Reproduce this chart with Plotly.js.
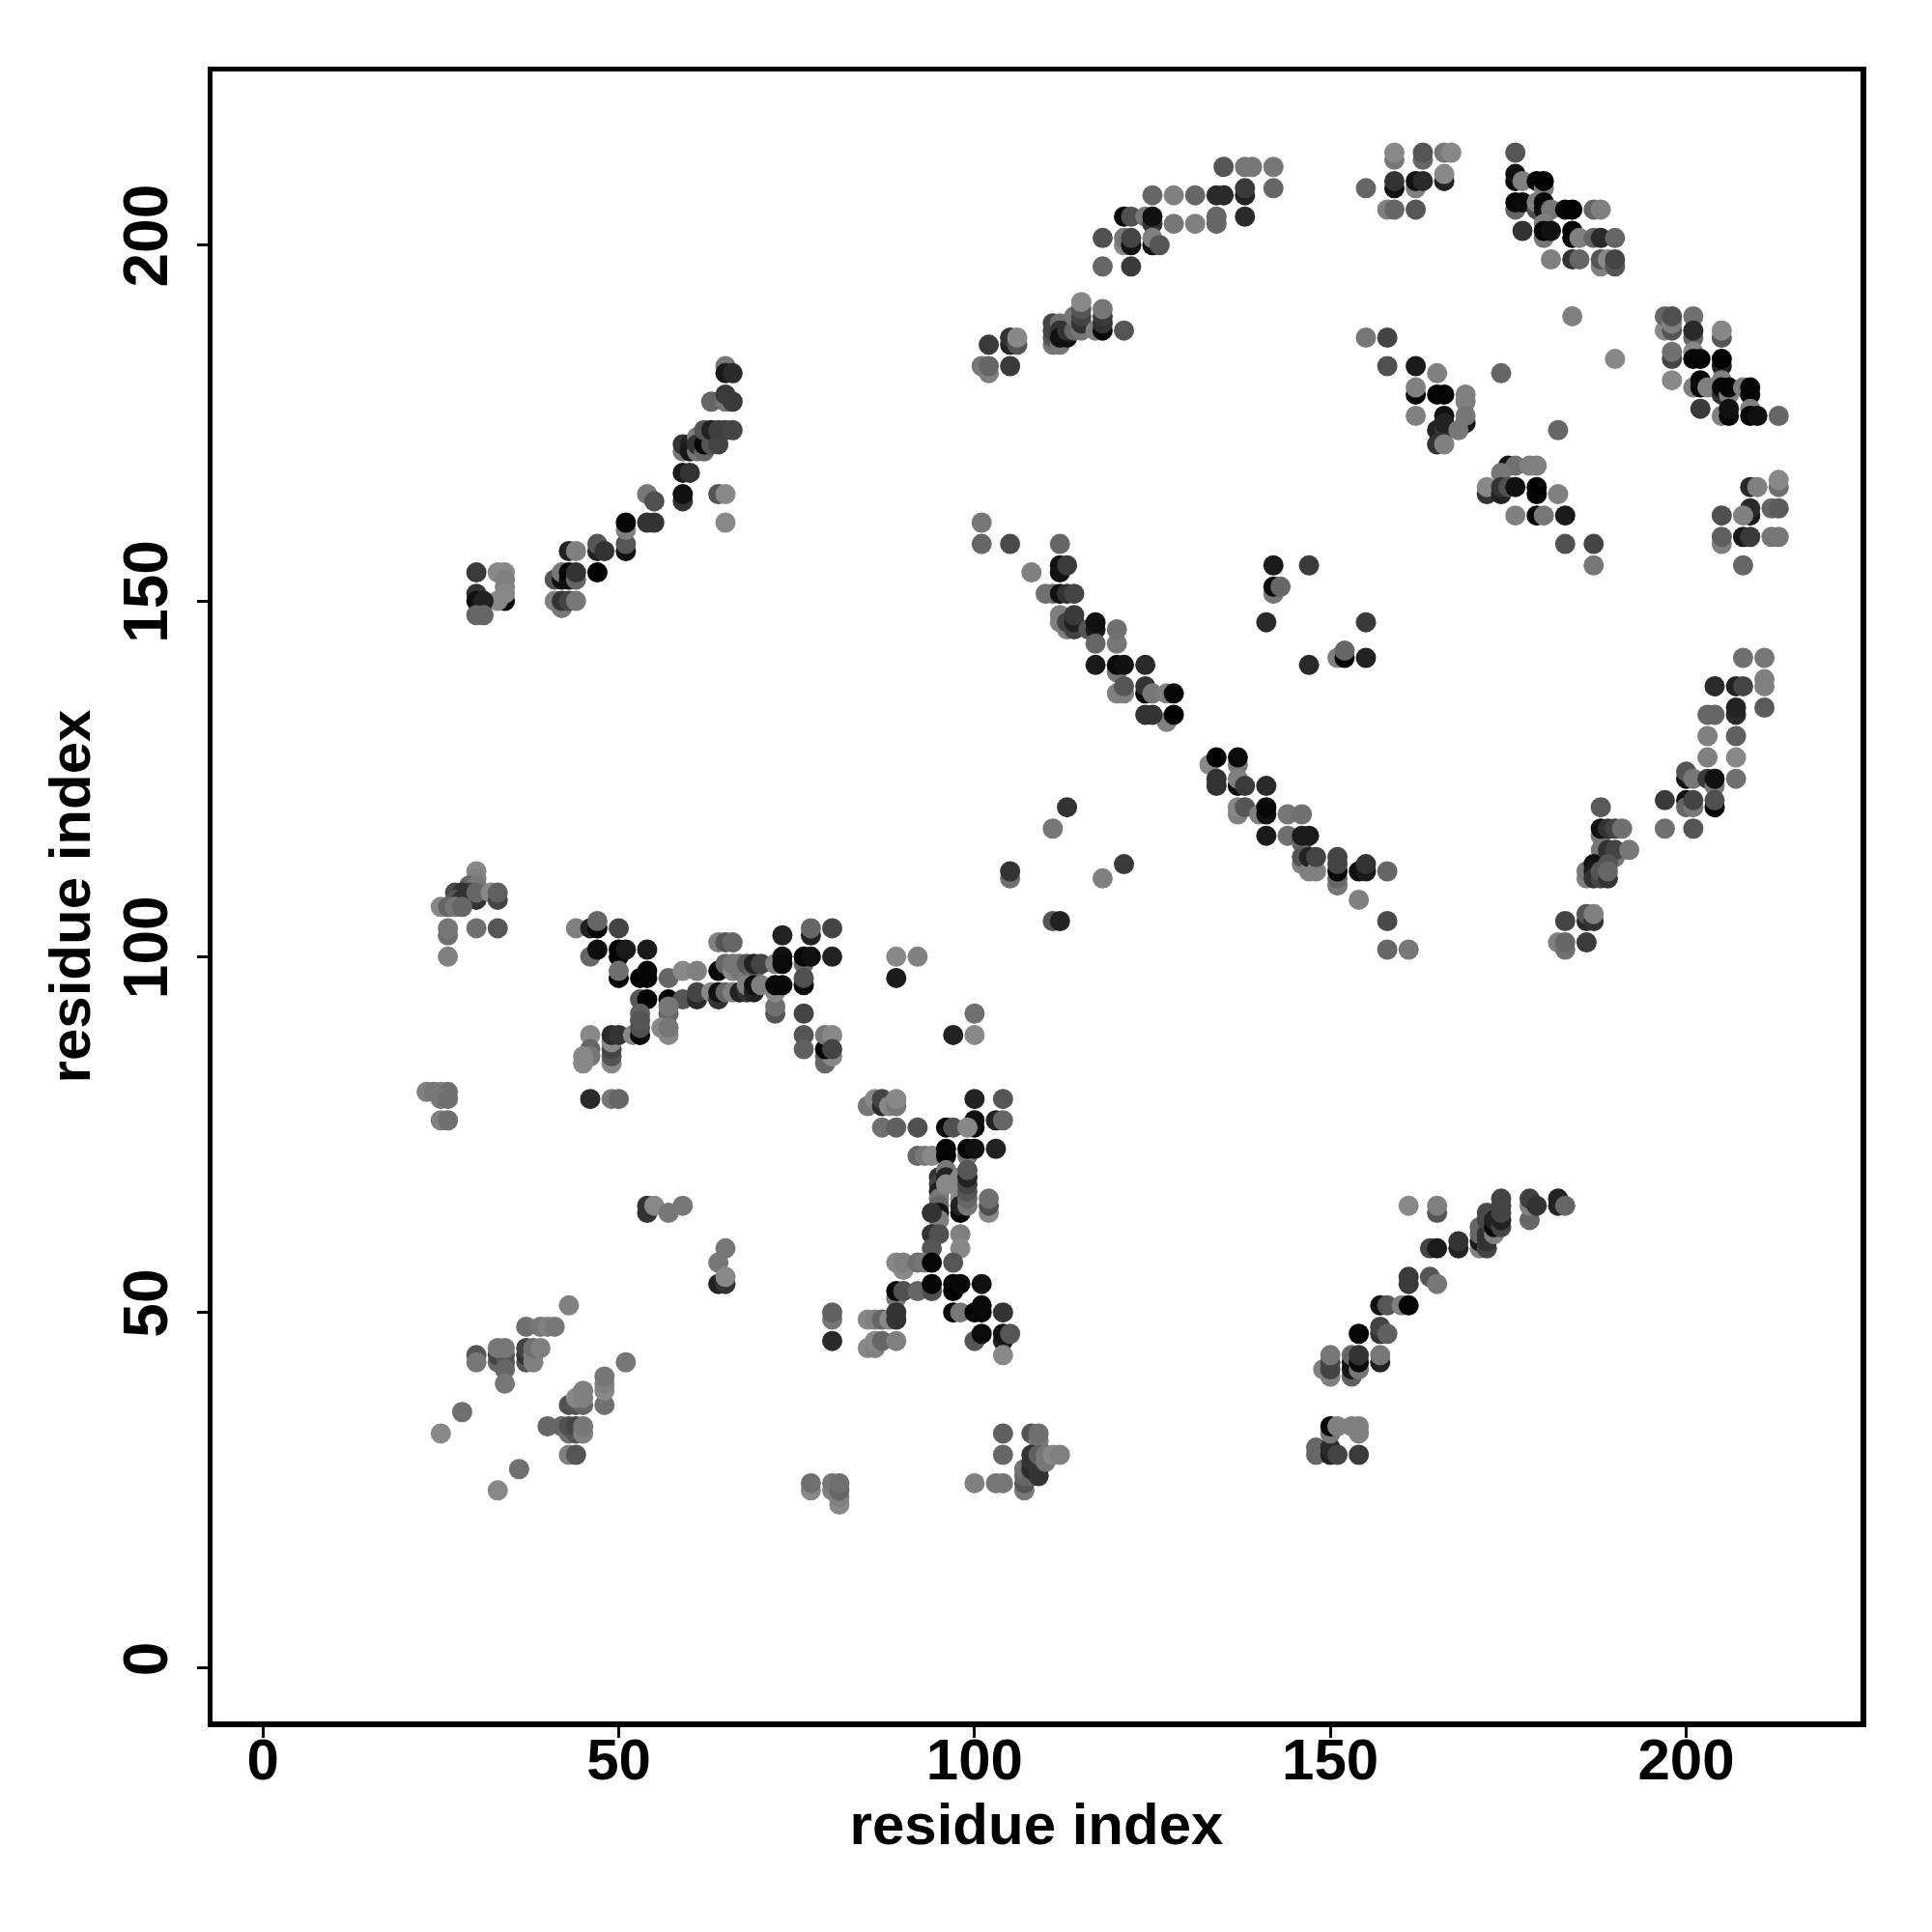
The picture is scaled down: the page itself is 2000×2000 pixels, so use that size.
<!DOCTYPE html>
<html><head><meta charset="utf-8">
<script src="https://cdn.plot.ly/plotly-3.0.1.min.js"></script>
<style>html,body{margin:0;padding:0;background:#fff}</style></head>
<body><div id="plot" style="width:2000px;height:2000px"></div>
<script>
// each contact: [residue i, residue j, grey shade 0..136]
const lowerLeftSheet=[[25,81,0x88],[23,81,0x80],[24,81,0x77],[26,81,0x70],[25,80,0x77],[26,80,0x70],[25,77,0x80],[26,77,0x70],
[43,51,0x80],[37,48,0x70],[39,48,0x77],[40,48,0x80],[41,48,0x77],[30,44,0x55],[30,43,0x77],[33,43,0x66],[34,43,0x55],[33,44,0x44],[34,44,0x55],[33,45,0x77],[34,45,0x77],[34,42,0x66],[34,40,0x77],
[37,43,0x55],[37,44,0x33],[37,45,0x44],[38,43,0x80],[38,44,0x80],[38,45,0x70],[39,45,0x80],[51,43,0x77],[48,37,0x70],[48,39,0x88],[48,40,0x80],[48,41,0x77],
[43,37,0x50],[44,37,0x55],[45,37,0x66],[44,38,0x88],[45,38,0x80],[45,39,0x80],[40,34,0x66],[42,34,0x66],[43,33,0x70],[43,34,0x50],[44,33,0x55],[44,34,0x44],[45,33,0x80],[45,34,0x77],[43,30,0x80],[44,30,0x55],
[28,36,0x70],[25,33,0x88],[36,28,0x70],[33,25,0x88],[54,64,0x33],[54,65,0x33],[55,65,0x88],[57,64,0x77],[59,65,0x77],[65,59,0x77],[64,57,0x77],[64,54,0x22],[65,54,0x33],[65,55,0x88],
[80,49,0x77],[80,50,0x60],[80,46,0x2a],[77,25,0x88],[77,26,0x70],[80,25,0x80],[80,26,0x77],[81,23,0x88],[81,24,0x80],[81,25,0x66],[81,26,0x70]];
const sheetAt30=[[30,112,0x88],[30,111,0x80],[29,110,0x66],[30,110,0x77],[29,109,0x44],[27,109,0x4a],[28,109,0x33],[27,108,0x55],[28,108,0x33],[30,108,0x33],[30,109,0x66],[25,107,0x88],[26,107,0x66],[27,107,0x77],[28,107,0x66],[32,109,0x88],[33,108,0x44],[33,109,0x60],[26,103,0x70],[26,104,0x77],[26,100,0x80],[30,104,0x70],[33,104,0x55]];
const crossLeft=[[44,104,0x80],[46,104,0x22],[47,104,0x08],[47,105,0x66],[50,104,0x44],[46,100,0x66],[47,101,0x0d],[50,100,0x08],[50,101,0x05],[51,101,0x1a],[54,101,0x1a],[50,97,0x05],[50,98,0x70],[53,97,0x02],[54,98,0x05],[54,97,0x05],[57,97,0x66],[59,98,0x88],[61,98,0x80],
[53,94,0x55],[54,94,0x03],[57,94,0x03],[59,94,0x55],[61,94,0x2a],[61,95,0x44],[53,92,0x60],[57,92,0x66],[57,93,0x77],
[46,89,0x88],[49,85,0x88],[49,86,0x55],[49,87,0x44],[49,88,0x88],[49,89,0x2a],[50,89,0x33],[52,89,0x88],[53,89,0x05],[53,90,0x50],[53,91,0x55],[46,87,0x66],[46,86,0x77],[45,86,0x88],[45,85,0x88],[56,90,0x88],[57,89,0x88],[57,90,0x77],
[46,80,0x2a],[49,80,0x77],[50,80,0x66]];
const crossRight=[[64,102,0x80],[65,102,0x55],[66,102,0x66],[64,98,0x08],[65,99,0x66],[66,98,0x88],[66,99,0x77],[67,98,0x77],[67,99,0x77],[68,99,0x55],[69,98,0x66],[69,99,0x22],[70,99,0x44],[72,99,0x80],
[63,95,0x88],[64,94,0x33],[64,95,0x11],[65,95,0x66],[66,95,0x80],[67,95,0x22],[68,95,0x33],[68,96,0x80],[69,95,0x22],[69,96,0x11],[70,96,0x80],
[73,103,0x22],[73,100,0x11],[73,99,0x0a],[72,92,0x55],[72,93,0x70],[72,95,0x88],[72,96,0x08],[73,96,0x08],[76,99,0x66],[76,100,0x05],[77,100,0x11],[80,100,0x22],[77,103,0x22],[77,104,0x66],[80,104,0x44],[76,96,0x0a],[76,97,0x50],[76,92,0x44],[76,89,0x55],[76,87,0x60],
[79,85,0x66],[79,86,0x66],[80,86,0x88],[79,87,0x05],[79,89,0x77],[80,89,0x88],[80,87,0x44],[89,100,0x88],[92,100,0x80],[89,97,0x1a],[97,89,0x22],[100,89,0x88],[100,92,0x70]];
const crossLower=[[85,79,0x77],[86,80,0x88],[87,79,0x2a],[87,80,0x44],[88,79,0x88],[89,79,0x77],[89,80,0x88],[100,80,0x22],[104,80,0x55],[100,76,0x08],[100,77,0x11],[103,77,0x22],[104,77,0x66],
[87,76,0x70],[89,76,0x60],[92,76,0x50],[96,76,0x08],[97,76,0x50],[99,76,0x88],[92,72,0x66],[93,72,0x77],[94,72,0x88],[96,72,0x05],[96,73,0x05],[99,72,0x77],[99,73,0x05],[100,73,0x11],[103,73,0x22],
[95,69,0x33],[95,68,0x44],[95,67,0x22],[95,66,0x77],[95,65,0x66],[95,64,0x11],[95,63,0x80],[94,64,0x33],[96,70,0x77],[96,69,0x22],[96,68,0x88],
[98,69,0x88],[98,67,0x88],[98,66,0x88],[98,64,0x08],[98,65,0x22],[99,65,0x77],[99,66,0x66],[99,67,0x55],[99,68,0x44],[99,69,0x22],[99,70,0x55],[102,64,0x88],[102,65,0x50],[102,66,0x70],
[94,61,0x33],[95,61,0x50],[98,61,0x80],[94,59,0x55],[98,59,0x88],[89,57,0x88],[90,56,0x88],[90,57,0x80],[92,57,0x70],[93,57,0x77],[94,57,0x05],[97,57,0x55],
[89,52,0x77],[89,53,0x0a],[90,53,0x50],[92,53,0x66],[94,53,0x50],[94,54,0x05],[97,53,0x03],[97,54,0x03],[98,54,0x08],[101,54,0x11],
[85,49,0x88],[86,49,0x80],[87,49,0x66],[88,49,0x88],[89,49,0x33],[89,50,0x33],[97,50,0x05],[98,50,0x77],[100,50,0x02],[101,50,0x05],[101,51,0x0a],[104,50,0x33],
[85,45,0x88],[86,45,0x80],[86,46,0x88],[87,46,0x66],[89,46,0x80],[100,46,0x55],[101,47,0x0a],[104,46,0x22],[104,47,0x11],[105,47,0x55],[104,44,0x88]];
const lowerMid=[[100,26,0x80],[103,26,0x77],[104,26,0x77],[104,30,0x66],[104,33,0x60],[108,33,0x55],[109,32,0x77],[109,33,0x70],[107,25,0x77],[107,26,0x55],[107,27,0x66],[107,28,0x70],[108,27,0x66],[108,28,0x2a],[108,29,0x33],[108,30,0x33],[109,27,0x33],[109,28,0x33],[109,29,0x33],[109,30,0x60],[110,29,0x77],[110,30,0x77],[111,30,0x88],[112,30,0x80]];
const lowerRight=[[148,30,0x66],[148,31,0x66],[150,30,0x22],[150,31,0x2a],[151,30,0x44],[154,30,0x3a],[150,33,0x77],[150,34,0x08],[151,34,0x80],[153,34,0x80],[154,33,0x80],[154,34,0x80],
[149,42,0x80],[150,41,0x80],[150,42,0x44],[150,43,0x44],[150,44,0x77],[153,41,0x60],[153,42,0x1a],[153,43,0x11],[153,44,0x66],[154,42,0x77],[154,43,0x0a],[154,44,0x33],[157,43,0x22],[157,44,0x77],
[154,47,0x05],[157,47,0x33],[157,48,0x44],[158,47,0x60],[157,51,0x11],[158,51,0x55],[160,51,0x80],[161,51,0x05],[161,54,0x3a],[161,55,0x3a],[164,55,0x55],[165,54,0x77],
[164,59,0x44],[165,59,0x1a],[168,59,0x22],[168,60,0x33],[161,65,0x88],[165,64,0x55],[165,65,0x80],[171,59,0x80],[171,60,0x1a],[171,61,0x66],[171,62,0x66],[172,59,0x44],[172,60,0x33],[172,61,0x33],[172,63,0x44],[172,64,0x4a],[173,61,0x80],[173,62,0x08],[173,63,0x22],
[174,62,0x44],[174,63,0x22],[174,64,0x44],[174,65,0x44],[174,66,0x44],[178,63,0x66],[178,65,0x80],[178,66,0x40],[179,65,0x33],[182,65,0x22],[182,66,0x22],[183,65,0x66]];
const upperLeft=[[30,154,0x3a],[33,154,0x88],[34,154,0x88],[34,153,0x80],[34,152,0x80],[34,150,0x03],[33,150,0x88],[34,151,0x88],[30,151,0x33],[30,150,0x11],[31,150,0x22],[30,148,0x66],[31,148,0x66],
[41,150,0x80],[42,149,0x77],[42,150,0x33],[43,150,0x44],[44,150,0x77],[41,153,0x55],[42,153,0x11],[42,154,0x77],[43,153,0x11],[43,154,0x05],[44,153,0x66],[44,154,0x33],[43,157,0x22],[44,157,0x80],
[47,154,0x02],[47,157,0x22],[47,158,0x55],[48,157,0x33],[51,157,0x11],[51,158,0x55],[51,160,0x80],[51,161,0x05],[54,161,0x33],[55,161,0x33],[54,165,0x77],[55,164,0x50],
[59,164,0x33],[59,165,0x11],[59,168,0x1a],[60,168,0x33],[64,165,0x55],[65,165,0x88],[65,161,0x88],
[59,171,0x77],[59,172,0x33],[60,172,0x22],[60,171,0x1a],[61,173,0x80],[61,171,0x77],[61,172,0x33],[62,171,0x66],[62,172,0x08],[62,174,0x55],[63,172,0x55],[63,174,0x22],[64,172,0x44],[64,174,0x40],[65,174,0x40],[66,174,0x44],
[63,178,0x66],[65,178,0x77],[65,179,0x3a],[66,178,0x3a],[65,183,0x77],[65,182,0x1a],[66,182,0x2a]];
const arcTop=[[101,183,0x77],[102,182,0x80],[102,183,0x66],[102,186,0x3a],[105,183,0x3a],[105,186,0x22],[105,187,0x33],[106,186,0x55],[106,187,0x88],
[111,186,0x77],[111,187,0x55],[111,188,0x44],[111,189,0x44],[112,186,0x77],[112,189,0x70],[112,188,0x33],[112,187,0x11],[113,187,0x11],[113,188,0x33],[114,188,0x66],[114,190,0x77],[115,188,0x77],[115,189,0x33],[115,190,0x44],[115,191,0x55],[115,192,0x88],[117,188,0x80],[118,188,0x08],[118,189,0x33],[118,190,0x3a],[118,191,0x77],[121,188,0x55],
[118,197,0x66],[118,201,0x50],[122,197,0x3a],[121,200,0x88],[121,201,0x77],[122,200,0x11],[122,201,0x44],[121,204,0x0a],[122,204,0x50],[124,204,0x77],[125,203,0x33],[125,204,0x11],[125,200,0x11],[125,201,0x80],[126,200,0x55],
[125,207,0x66],[128,207,0x80],[131,207,0x66],[134,207,0x2a],[135,207,0x2a],[138,207,0x22],[138,208,0x3a],[142,208,0x66],[128,203,0x77],[131,203,0x80],[134,203,0x66],[134,204,0x66],[138,204,0x2a],[135,211,0x55],[138,211,0x77],[139,211,0x77],[142,211,0x77],
[155,208,0x66],[159,212,0x77],[159,213,0x88],[163,212,0x66],[163,213,0x55],[166,213,0x77],[167,213,0x88],[159,208,0x11],[159,209,0x33],[162,208,0x80],[162,209,0x11],[163,209,0x2a],[166,209,0x22],[166,210,0x88],[158,205,0x80],[159,205,0x66],[162,205,0x55]];
const arcTopRight=[[176,213,0x55],[176,209,0x08],[176,210,0x11],[177,209,0x80],[179,209,0x08],[180,208,0x80],[180,209,0x03],[176,205,0x66],[176,206,0x08],[177,206,0x0a],[179,205,0x50],[179,206,0x80],[180,205,0x11],[180,206,0x08],[181,205,0x77],[183,205,0x08],[184,205,0x03],[187,205,0x66],[188,205,0x80],
[177,202,0x33],[180,201,0x77],[180,203,0x80],[180,202,0x08],[181,202,0x11],[184,201,0x05],[184,202,0x03],[185,201,0x80],[187,201,0x66],[188,201,0x2a],[190,201,0x66],[181,198,0x80],[184,198,0x33],[185,198,0x66],[188,197,0x80],[188,198,0x55],[189,198,0x88],[190,197,0x55],[190,198,0x44],
[184,190,0x80],[190,184,0x88],[174,182,0x66],[182,174,0x66],
[197,188,0x88],[197,190,0x66],[198,188,0x55],[198,189,0x80],[198,190,0x50],[201,190,0x70],[201,187,0x66],[201,188,0x2a],[205,187,0x55],[205,188,0x88],[198,184,0x44],[198,185,0x70],[201,185,0x88],[201,184,0x05],[202,184,0x05],[205,183,0x22],[205,184,0x03],
[198,181,0x88],[201,180,0x80],[202,181,0x08],[202,180,0x08],[203,180,0x80],[205,179,0x33],[205,181,0x80],[205,180,0x08],[206,179,0x80],[206,180,0x05],[208,180,0x80],[209,179,0x08],[209,180,0x05],[202,177,0x3a],[205,176,0x80],[206,176,0x05],[206,177,0x11],[209,177,0x80],[209,176,0x05],[210,176,0x11],[213,176,0x66]];
const innerRight=[[155,187,0x77],[158,187,0x44],[158,183,0x50],[162,183,0x1a],[165,182,0x80],[162,179,0x05],[162,180,0x80],[165,179,0x03],[166,179,0x05],[169,178,0x80],[169,179,0x80],[162,176,0x80],[169,175,0x11],[169,176,0x77],[166,176,0x11],[165,174,0x22],[166,174,0x33],[166,175,0x22],[168,174,0x77],[165,172,0x33],[166,172,0x80],
[175,169,0x11],[176,169,0x70],[178,169,0x80],[179,169,0x80],[174,168,0x77],[172,165,0x33],[172,166,0x88],[174,165,0x22],[174,166,0x33],[175,166,0x50],[176,166,0x11],[179,165,0x05],[179,166,0x03],[182,165,0x80],[176,162,0x80],[179,162,0x03],[180,162,0x77],[183,162,0x1a],[183,158,0x50],[187,158,0x44],[187,155,0x77],
[209,166,0x2a],[210,166,0x80],[213,166,0x70],[213,167,0x88],[209,162,0x1a],[209,163,0x2a],[212,163,0x66],[213,163,0x5a],[205,162,0x50],[208,162,0x80],[205,158,0x80],[205,159,0x60],[208,159,0x1a],[209,159,0x3a],[212,159,0x77],[213,159,0x77],[208,155,0x66]];
const diagonalA=[[101,161,0x77],[101,158,0x66],[105,158,0x4a],[112,158,0x66],[108,154,0x80],[112,154,0x11],[112,155,0x11],[113,155,0x3a],[110,151,0x70],[111,151,0x70],[112,151,0x11],[113,151,0x33],[114,151,0x44],
[112,147,0x80],[112,148,0x80],[113,146,0x80],[113,147,0x44],[114,146,0x44],[114,147,0x22],[114,148,0x3a],[116,146,0x55],[117,146,0x1a],[117,147,0x11],[117,144,0x66],[120,144,0x77],[120,146,0x70],
[117,141,0x1a],[120,140,0x77],[120,141,0x0a],[121,141,0x11],[124,141,0x2a],[120,137,0x80],[121,137,0x80],[121,138,0x55],[124,137,0x02],[124,138,0x33],[125,137,0x77],[127,137,0x80],[128,137,0x08],[127,133,0x80],[124,134,0x33],[125,134,0x33],[128,134,0x01],
[142,155,0x1a],[147,155,0x3a],[142,151,0x77],[142,152,0x0a],[143,152,0x66],[141,147,0x2a],[155,147,0x3a],[151,142,0x80],[152,142,0x05],[152,143,0x66],[155,142,0x22],[147,141,0x2a]];
const diagonalB=[[133,127,0x88],[134,128,0x00],[137,127,0x77],[137,128,0x0a],[134,124,0x33],[134,125,0x33],[137,124,0x0a],[137,125,0x80],[138,124,0x3a],[141,124,0x2a],
[137,120,0x80],[137,121,0x88],[138,121,0x55],[140,120,0x80],[141,120,0x11],[141,121,0x08],[144,120,0x77],[146,120,0x70],[141,117,0x1a],[144,117,0x70],[146,116,0x66],[146,117,0x1a],[147,117,0x1a],
[146,113,0x80],[146,114,0x55],[147,112,0x80],[147,114,0x22],[148,112,0x80],[148,114,0x44],[151,110,0x77],[151,111,0x66],[151,112,0x08],[151,113,0x44],[151,114,0x44],[154,112,0x11],[155,112,0x1a],[155,113,0x33],[158,112,0x66],[154,108,0x80],[158,105,0x4a],[158,101,0x66],[161,101,0x77],
[118,111,0x80],[121,113,0x3a],[111,118,0x77],[113,121,0x33],[105,111,0x70],[105,112,0x33],[111,105,0x55],[112,105,0x22]];
const rightArc=[[208,142,0x70],[211,142,0x77],[211,138,0x80],[211,139,0x80],[211,135,0x5a],[204,138,0x2a],[207,138,0x22],[208,138,0x44],[207,134,0x2a],[207,135,0x22],[203,134,0x66],[204,134,0x66],[203,131,0x80],[207,131,0x60],[203,128,0x80],[207,128,0x88],[207,125,0x70],
[200,125,0x11],[200,126,0x55],[201,125,0x77],[203,125,0x3a],[204,124,0x77],[204,125,0x11],[197,122,0x3a],[200,122,0x11],[200,121,0x66],[201,121,0x77],[201,122,0x44],[204,121,0x05],[204,122,0x50],[197,118,0x70],[201,118,0x55],
[188,121,0x5a],[188,117,0x77],[188,118,0x11],[189,118,0x33],[190,118,0x44],[191,118,0x70],[188,115,0x77],[189,114,0x50],[190,114,0x77],[189,115,0x33],[190,115,0x44],[192,115,0x77],
[186,111,0x80],[186,112,0x77],[187,113,0x11],[187,112,0x1a],[187,111,0x33],[188,111,0x44],[188,112,0x55],[189,113,0x55],[189,111,0x33],[189,112,0x66],
[186,105,0x2a],[186,106,0x55],[187,105,0x33],[187,106,0x80],[183,105,0x44],[182,102,0x80],[183,101,0x70],[183,102,0x66],[186,102,0x3a]];

const contacts=[].concat(lowerLeftSheet,sheetAt30,crossLeft,crossRight,crossLower,lowerMid,lowerRight,upperLeft,arcTop,arcTopRight,innerRight,diagonalA,diagonalB,rightArc);
const tickValues=[0,50,100,150,200];
const xLabel='residue index', yLabel='residue index';

const greyCss=v=>`rgb(${v},${v},${v})`;
const font='"Liberation Sans", Arial, sans-serif';
const axisBase={tickvals:tickValues,ticktext:tickValues.map(String),ticks:'outside',ticklen:11,tickwidth:3,tickcolor:'#000',
  showline:true,linecolor:'#000',linewidth:5.5,mirror:true,showgrid:false,zeroline:false};
Plotly.newPlot('plot',[{type:'scatter',mode:'markers',
  x:contacts.map(c=>c[0]),y:contacts.map(c=>c[1]),
  marker:{size:21,color:contacts.map(c=>greyCss(c[2])),line:{width:0}},hoverinfo:'skip'}],
 {width:2000,height:2000,paper_bgcolor:'#fff',plot_bgcolor:'#fff',showlegend:false,
  margin:{l:219.5,r:73.5,t:74,b:218,pad:0},
  xaxis:Object.assign({},axisBase,{range:[-7.08,224.5],tickangle:0,ticklabelstandoff:-29,
    tickfont:{family:font,size:60,color:'#000',weight:'bold'},
    title:{text:'<b>'+xLabel+'</b>',standoff:9,font:{family:font,size:60,color:'#000'}}}),
  yaxis:Object.assign({},axisBase,{range:[-7.47,224.4],tickangle:-90,ticklabelstandoff:5,
    tickfont:{family:font,size:64,color:'#000',weight:'bold'},
    title:{text:'<b>'+yLabel+'</b>',standoff:4,font:{family:font,size:60,color:'#000'}}})
 },{staticPlot:true,displayModeBar:false});
</script></body></html>
